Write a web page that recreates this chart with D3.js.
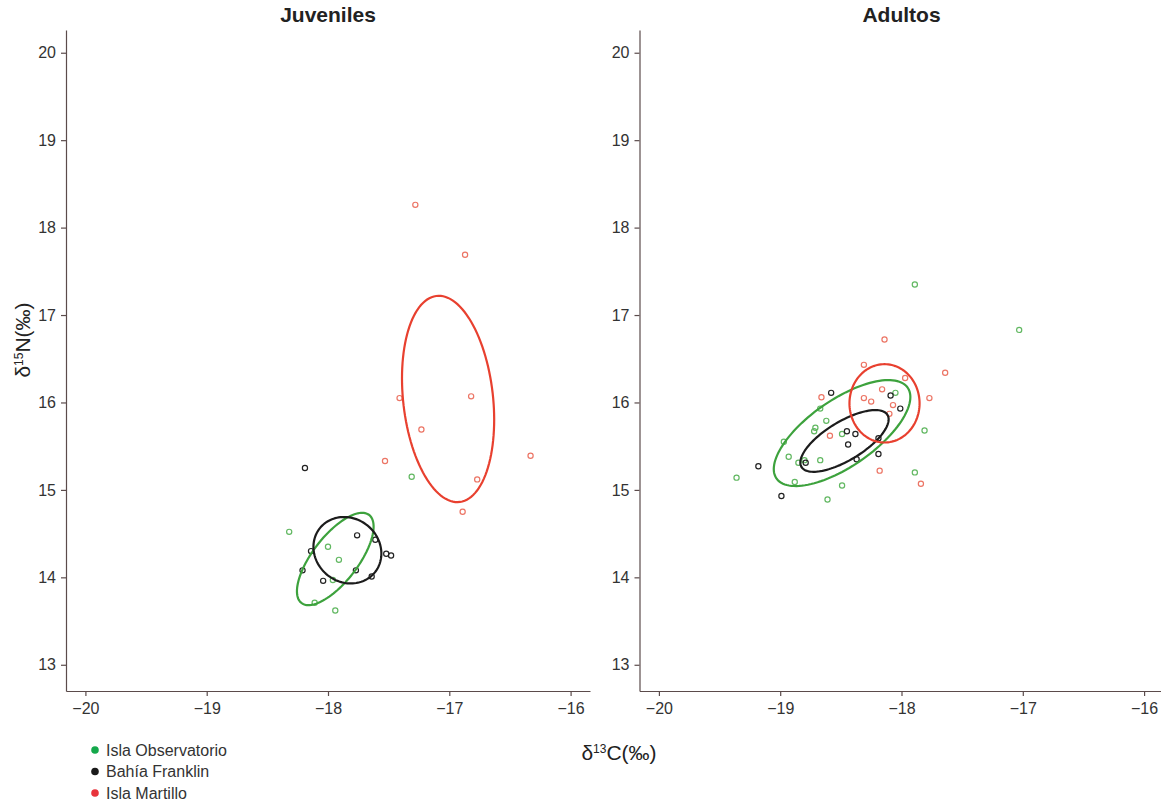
<!DOCTYPE html>
<html>
<head>
<meta charset="utf-8">
<script src="https://cdn.jsdelivr.net/npm/d3@7"></script>
<style>
  body { margin: 0; background: #fff; }
  svg { font-family: "Liberation Sans", Arial, sans-serif; }
  .axis path, .axis line { stroke: #5b4b4b; stroke-width: 1.2; }
  .axis text { fill: #333; font-size: 16px; }
</style>
</head>
<body>
<div id="chart"></div>
<script>
// ---- data ----
const panelTitles = ["Juveniles", "Adultos"];
const groupNames = ["Isla Observatorio", "Bahía Franklin", "Isla Martillo"];
const xTicks = [-20, -19, -18, -17, -16];
const yTicks = [13, 14, 15, 16, 17, 18, 19, 20];

// juveniles: [δ13C, δ15N]
const juvObservatorio = [
    [-18.32, 14.52], [-18.00, 14.35], [-17.91, 14.20], [-17.96, 13.97],
    [-18.11, 13.71], [-17.94, 13.62], [-17.31, 15.15]
];
const juvFranklin = [
    [-18.19, 15.25], [-18.14, 14.30], [-18.21, 14.08], [-18.04, 13.96],
    [-17.76, 14.48], [-17.77, 14.08], [-17.64, 14.01], [-17.61, 14.43],
    [-17.52, 14.27], [-17.48, 14.25]
];
const juvMartillo = [
    [-17.28, 18.26], [-16.87, 17.69], [-17.41, 16.05], [-16.82, 16.07],
    [-17.23, 15.69], [-17.53, 15.33], [-16.33, 15.39], [-16.77, 15.12],
    [-16.89, 14.75]
];

// adults
const adObservatorio = [
    [-17.89, 17.35], [-18.05, 16.11], [-18.67, 15.93], [-18.71, 15.71],
    [-18.72, 15.67], [-18.62, 15.79], [-18.49, 15.64], [-18.97, 15.55],
    [-18.93, 15.38], [-18.85, 15.31], [-18.80, 15.34], [-18.67, 15.34],
    [-18.88, 15.09], [-18.49, 15.05], [-18.61, 14.89], [-19.36, 15.14],
    [-17.89, 15.20], [-17.81, 15.68], [-17.03, 16.83]
];
const adFranklin = [
    [-18.58, 16.11], [-18.09, 16.08], [-18.01, 15.93], [-18.45, 15.67],
    [-18.38, 15.64], [-18.44, 15.52], [-18.19, 15.59], [-18.19, 15.41],
    [-18.37, 15.35], [-18.79, 15.31], [-19.18, 15.27], [-18.99, 14.93]
];
const adMartillo = [
    [-18.14, 16.72], [-18.31, 16.43], [-17.97, 16.28], [-17.64, 16.34],
    [-18.66, 16.06], [-18.16, 16.15], [-18.31, 16.05], [-18.25, 16.01],
    [-18.07, 15.97], [-18.10, 15.87], [-17.77, 16.05], [-18.59, 15.62],
    [-18.18, 15.22], [-17.84, 15.07]
];

// ellipses: [centre x, centre y, sd x, sd y, correlation]
const juvEllipses = [
    [-17.94, 14.21, 0.316, 0.528, 0.70],
    [-17.84, 14.31, 0.280, 0.380, -0.10],
    [-17.01, 16.04, 0.380, 1.180, -0.20]
];
const adEllipses = [
    [-18.49, 15.65, 0.563, 0.606, 0.68],
    [-18.47, 15.56, 0.364, 0.353, 0.70],
    [-18.14, 15.99, 0.289, 0.448, 0.00]
];

// ---- styles ----
const pointColors = ["#62b862", "#222222", "#ec7565"];
const lineColors = ["#3da23d", "#1c1c1c", "#e8402f"];
const legendColors = ["#14a84b", "#1a1a1a", "#e8343c"];

const svg = d3.select("#chart").append("svg")
    .attr("width", 1161)
    .attr("height", 805);

const panelW = 524, panelH = 661;
const panelLeft = [66, 639.5];
const panelTop = 30;

const xScale = d3.scaleLinear().domain([-20.16, -15.84]).range([0, panelW]);
const yScale = d3.scaleLinear().domain([12.70, 20.26]).range([panelH, 0]);

// ellipse outline from sd/correlation parameters
function ellipsePoints(e) {
    const [cx, cy, sx, sy, r] = e;
    const k = Math.sqrt(1 - r * r);
    return d3.range(0, 361, 3).map(deg => {
        const t = deg * Math.PI / 180;
        return [cx + sx * Math.cos(t), cy + sy * (r * Math.cos(t) + k * Math.sin(t))];
    });
}

const line = d3.line()
    .x(d => xScale(d[0]))
    .y(d => yScale(d[1]))
    .curve(d3.curveLinearClosed);

const panels = [
    { groups: [juvObservatorio, juvFranklin, juvMartillo], ellipses: juvEllipses },
    { groups: [adObservatorio, adFranklin, adMartillo], ellipses: adEllipses }
];

panels.forEach((p, i) => {
    const g = svg.append("g")
        .attr("transform", `translate(${panelLeft[i]},${panelTop})`);

    g.append("g")
        .attr("class", "axis")
        .attr("transform", `translate(0,${panelH})`)
        .call(d3.axisBottom(xScale).tickValues(xTicks).tickFormat(d3.format("d"))
            .tickSize(5).tickSizeOuter(0).tickPadding(7));

    g.append("g")
        .attr("class", "axis")
        .call(d3.axisLeft(yScale).tickValues(yTicks).tickFormat(d3.format("d"))
            .tickSize(5).tickSizeOuter(0).tickPadding(5));

    // points
    p.groups.forEach((pts, j) => {
        g.append("g").selectAll("circle")
            .data(pts)
            .join("circle")
            .attr("cx", d => xScale(d[0]))
            .attr("cy", d => yScale(d[1]))
            .attr("r", 2.6)
            .attr("fill", "none")
            .attr("stroke", pointColors[j])
            .attr("stroke-width", 1.2);
    });

    // ellipses
    p.ellipses.forEach((e, j) => {
        g.append("path")
            .datum(ellipsePoints(e))
            .attr("d", line)
            .attr("fill", "none")
            .attr("stroke", lineColors[j])
            .attr("stroke-width", 2.2);
    });

    // title
    g.append("text")
        .attr("x", xScale(-18))
        .attr("y", -8)
        .attr("text-anchor", "middle")
        .attr("font-size", "21px")
        .attr("font-weight", "bold")
        .attr("fill", "#222")
        .text(panelTitles[i]);
});

// axis titles
const yLab = svg.append("text")
    .attr("transform", "translate(30,340) rotate(-90)")
    .attr("text-anchor", "middle")
    .attr("font-size", "21px")
    .attr("fill", "#222");
yLab.append("tspan").text("δ");
yLab.append("tspan").attr("font-size", "12px").attr("dy", -7).text("15");
yLab.append("tspan").attr("dy", 7).text("N(‰)");

const xLab = svg.append("text")
    .attr("x", 619)
    .attr("y", 760)
    .attr("text-anchor", "middle")
    .attr("font-size", "21px")
    .attr("fill", "#222");
xLab.append("tspan").text("δ");
xLab.append("tspan").attr("font-size", "12px").attr("dy", -7).text("13");
xLab.append("tspan").attr("dy", 7).text("C(‰)");

// legend
const legend = svg.append("g").attr("transform", "translate(95,750)");
groupNames.forEach((name, i) => {
    legend.append("circle")
        .attr("cx", 0)
        .attr("cy", i * 21.5)
        .attr("r", 3.8)
        .attr("fill", legendColors[i]);
    legend.append("text")
        .attr("x", 11)
        .attr("y", i * 21.5 + 5.5)
        .attr("font-size", "16px")
        .attr("fill", "#333")
        .text(name);
});
</script>
</body>
</html>
